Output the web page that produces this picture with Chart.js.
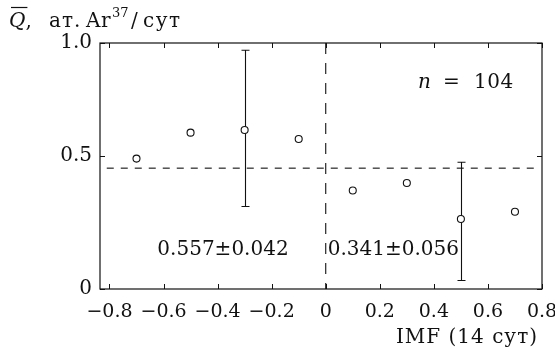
<!DOCTYPE html>
<html>
<head>
<meta charset="utf-8">
<script src="https://cdn.jsdelivr.net/npm/chart.js@4/dist/chart.umd.min.js"></script>
<style>
  html, body { margin: 0; padding: 0; background: #fff; }
  #wrap { width: 555px; height: 358px; }
</style>
</head>
<body>
<div id="wrap"><canvas id="chart" width="555" height="358"></canvas></div>
<script>
// Mean Ar-37 production rate binned by interplanetary magnetic field sign (14-day average)
const imfBins   = [-0.7, -0.5, -0.3, -0.1, 0.1, 0.3, 0.5, 0.7];
const meanRate  = [0.49, 0.603, 0.615, 0.575, 0.37, 0.398, 0.263, 0.29];
const errLow    = [null, null, 0.31, null, null, null, 0.032, null];
const errHigh   = [null, null, 0.968, null, null, null, 0.476, null];
const overallMean = 0.454;
const xTickValues = [-0.8, -0.6, -0.4, -0.2, 0, 0.2, 0.4, 0.6, 0.8];
const yTickValues = [0, 0.5, 1.0];
const yTickLabels = ['0', '0.5', '1.0'];
const sampleSize = 104;
const negativeMean = '0.557±0.042';
const positiveMean = '0.341±0.056';

// The vertical axis of this figure is drawn with unequal spacing between its
// labelled values; these knots map each labelled value to its share of the axis.
const yKnotValues = [0, 0.5, 1.0];
const yKnotShares = [0, 0.541, 1];

function valueToShare(v) {
  for (let i = 1; i < yKnotValues.length; i++) {
    if (v <= yKnotValues[i] || i === yKnotValues.length - 1) {
      const a = yKnotValues[i - 1], b = yKnotValues[i];
      return yKnotShares[i - 1] + (v - a) / (b - a) * (yKnotShares[i] - yKnotShares[i - 1]);
    }
  }
  return 0;
}
function shareToValue(s) {
  for (let i = 1; i < yKnotShares.length; i++) {
    if (s <= yKnotShares[i] || i === yKnotShares.length - 1) {
      const a = yKnotShares[i - 1], b = yKnotShares[i];
      return yKnotValues[i - 1] + (s - a) / (b - a) * (yKnotValues[i] - yKnotValues[i - 1]);
    }
  }
  return 0;
}

class KnottedScale extends Chart.LinearScale {
  getPixelForValue(value) {
    if (value === null || value === undefined || isNaN(value)) return NaN;
    return this.getPixelForDecimal(valueToShare(value));
  }
  getValueForPixel(pixel) {
    return shareToValue(this.getDecimalForPixel(pixel));
  }
}
KnottedScale.id = 'knotted';
KnottedScale.defaults = Chart.LinearScale.defaults;
Chart.register(KnottedScale);

const FONT_FAMILY = '"DejaVu Serif", "Liberation Serif", serif';
const INK = '#111';
const TEXT_SIZE = 20;
const font = (italic) => (italic ? 'italic ' : '') + TEXT_SIZE + 'px ' + FONT_FAMILY;

function fmtX(v) {
  if (Math.abs(v) < 1e-9) return '0';
  const s = Math.abs(v).toFixed(1);
  return v < 0 ? '\u2212' + s : s;
}

// Frame around the plot area with inward-pointing tick marks on all sides
const framePlugin = {
  id: 'frame',
  afterDatasetsDraw(chart) {
    const { ctx, chartArea: a, scales: { x, y } } = chart;
    const len = 5;
    ctx.save();
    ctx.strokeStyle = INK;
    ctx.lineWidth = 1.2;
    ctx.strokeRect(a.left, a.top, a.right - a.left, a.bottom - a.top);
    ctx.lineWidth = 1;
    ctx.beginPath();
    xTickValues.forEach(v => {
      const px = Math.round(x.getPixelForValue(v)) + 0.5;
      ctx.moveTo(px, a.bottom); ctx.lineTo(px, a.bottom - len);
      ctx.moveTo(px, a.top); ctx.lineTo(px, a.top + len);
    });
    yTickValues.forEach(v => {
      const py = Math.round(y.getPixelForValue(v)) + 0.5;
      ctx.moveTo(a.left, py); ctx.lineTo(a.left + len, py);
      ctx.moveTo(a.right, py); ctx.lineTo(a.right - len, py);
    });
    ctx.stroke();
    ctx.restore();
  }
};

// Vertical error bars with caps, drawn beneath the markers
const errorBarPlugin = {
  id: 'errorBars',
  beforeDatasetsDraw(chart) {
    const { ctx, scales: { x, y } } = chart;
    const cap = 4;
    ctx.save();
    ctx.strokeStyle = INK;
    ctx.lineWidth = 1.1;
    ctx.beginPath();
    imfBins.forEach((b, i) => {
      if (errLow[i] === null || errHigh[i] === null) return;
      const px = Math.round(x.getPixelForValue(b)) + 0.5;
      const lo = y.getPixelForValue(errLow[i]);
      const hi = y.getPixelForValue(errHigh[i]);
      ctx.moveTo(px, lo); ctx.lineTo(px, hi);
      ctx.moveTo(px - cap, hi); ctx.lineTo(px + cap, hi);
      ctx.moveTo(px - cap, lo); ctx.lineTo(px + cap, lo);
    });
    ctx.stroke();
    ctx.restore();
  }
};

// Axis captions and the text annotations inside the plot
const textPlugin = {
  id: 'texts',
  afterDraw(chart) {
    const { ctx, chartArea: a, scales: { x, y } } = chart;
    ctx.save();
    ctx.fillStyle = INK;
    ctx.strokeStyle = INK;
    ctx.textBaseline = 'alphabetic';
    ctx.textAlign = 'left';

    // Q̄, ат. Ar^37/сут
    const base = 27;
    ctx.letterSpacing = '0px';
    ctx.font = font(true);
    const qw = ctx.measureText('Q').width;
    ctx.fillText('Q', 9, base);
    ctx.lineWidth = 1.2;
    ctx.beginPath();
    ctx.moveTo(11, 7.5); ctx.lineTo(9 + qw + 2, 7.5);
    ctx.stroke();
    ctx.font = font(false);
    ctx.fillText(',', 9 + qw, base);
    ctx.letterSpacing = '1px';
    ctx.fillText('ат.', 49, base);
    ctx.letterSpacing = '0.5px';
    ctx.fillText('Ar', 86, base);
    ctx.letterSpacing = '0px';
    ctx.font = '13px ' + FONT_FAMILY;
    ctx.fillText('37', 112, base - 10);
    ctx.font = font(false);
    ctx.fillText('/', 131, base);
    ctx.letterSpacing = '1.5px';
    ctx.fillText('сут', 143, base);

    // horizontal axis caption, right-aligned under the last tick label
    ctx.letterSpacing = '1px';
    ctx.textAlign = 'right';
    ctx.fillText('IMF (14 сут)', a.right - 4, 343);

    // n = 104
    ctx.letterSpacing = '0.5px';
    ctx.textAlign = 'left';
    ctx.textBaseline = 'middle';
    const ny = y.getPixelForValue(0.823);
    const nx = x.getPixelForValue(0.515);
    ctx.font = font(true);
    ctx.fillText('n', nx - 47, ny);
    ctx.font = font(false);
    ctx.fillText('=', nx - 22, ny);
    ctx.fillText(String(sampleSize), nx + 9, ny);

    // group means on each side of zero
    ctx.letterSpacing = '0px';
    const my = y.getPixelForValue(0.147);
    ctx.textAlign = 'center';
    ctx.fillText(negativeMean, x.getPixelForValue(-0.38), my);
    ctx.textAlign = 'left';
    ctx.fillText(positiveMean, x.getPixelForValue(0) + 2, my);
    ctx.restore();
  }
};

new Chart(document.getElementById('chart'), {
  type: 'scatter',
  data: {
    datasets: [
      {
        data: imfBins.map((b, i) => ({ x: b, y: meanRate[i] })),
        showLine: false,
        pointStyle: 'circle',
        pointRadius: 3.5,
        pointBorderWidth: 1.1,
        pointBorderColor: INK,
        pointBackgroundColor: '#fff'
      },
      {
        data: [{ x: -0.81, y: overallMean }, { x: 0.78, y: overallMean }],
        showLine: true,
        borderColor: INK,
        borderWidth: 1.1,
        borderDash: [7, 7],
        pointRadius: 0
      },
      {
        data: [{ x: 0, y: 1.0 }, { x: 0, y: 0 }],
        showLine: true,
        borderColor: INK,
        borderWidth: 1.1,
        borderDash: [11, 9],
        pointRadius: 0
      }
    ]
  },
  options: {
    responsive: false,
    animation: false,
    devicePixelRatio: 1,
    layout: { padding: { top: 43, right: 13, bottom: 0, left: 0 } },
    plugins: { legend: { display: false }, tooltip: { enabled: false } },
    scales: {
      x: {
        type: 'linear',
        min: -0.835,
        max: 0.8,
        afterBuildTicks: s => { s.ticks = xTickValues.map(v => ({ value: v })); },
        afterFit: s => { s.height = 69; s.paddingLeft = 0; s.paddingRight = 0; },
        grid: { display: false, drawTicks: false },
        border: { display: false },
        ticks: {
          callback: v => fmtX(v),
          font: { family: FONT_FAMILY, size: 19 },
          color: INK,
          padding: 12,
          maxRotation: 0,
          autoSkip: false
        },
        title: { display: false }
      },
      y: {
        type: 'knotted',
        min: 0,
        max: 1.0,
        afterBuildTicks: s => { s.ticks = yTickValues.map(v => ({ value: v })); },
        afterFit: s => { s.width = 100; s.paddingTop = 0; s.paddingBottom = 0; },
        grid: { display: false, drawTicks: false },
        border: { display: false },
        ticks: {
          callback: v => yTickLabels[yTickValues.indexOf(v)],
          font: { family: FONT_FAMILY, size: TEXT_SIZE },
          color: INK,
          padding: 8
        }
      }
    }
  },
  plugins: [errorBarPlugin, framePlugin, textPlugin]
});
</script>
</body>
</html>
